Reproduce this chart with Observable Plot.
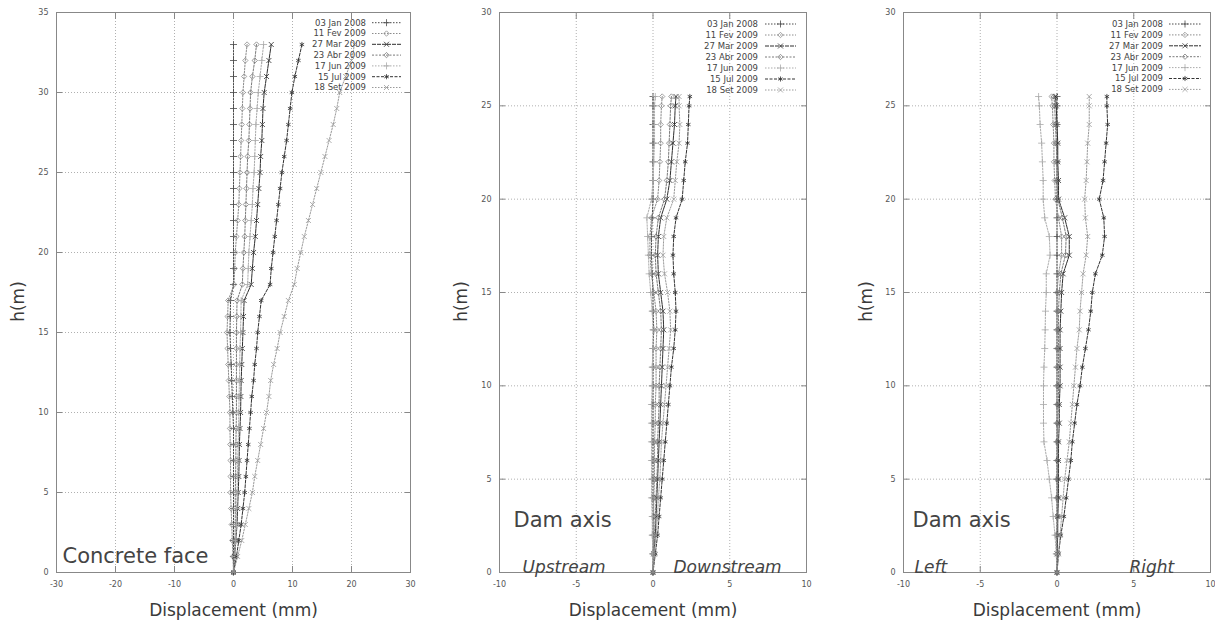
<!DOCTYPE html>
<html><head><meta charset="utf-8">
<script src="https://cdn.jsdelivr.net/npm/d3@7"></script>
<script src="https://cdn.jsdelivr.net/npm/@observablehq/plot@0.6"></script>
<style>
html,body{margin:0;padding:0;background:#fff;}
#wrap{position:relative;width:1215px;height:628px;overflow:hidden;font-family:"DejaVu Sans",sans-serif;}
.panel{position:absolute;top:0;}
</style></head><body><div id="wrap"></div>
<script>
// ---------- categories ----------
const dates = ["03 Jan 2008","11 Fev 2009","27 Mar 2009","23 Abr 2009","17 Jun 2009","15 Jul 2009","18 Set 2009"];
const hFace = [33,32,31,30,29,28,27,26,25,24,23,22,21,20,19,18,17,16,15,14,13,12,11,10,9,8,7,6,5,4,3,2,1,0];
const hAxis = [25.5,25,24,23,22,21,20,19,18,17,16,15,14,13,12,11,10,9,8,7,6,5,4,3,2,1,0];
const ticksFaceX = [-30,-20,-10,0,10,20,30];
const ticksFaceY = [0,5,10,15,20,25,30,35];
const ticksAxisX = [-10,-5,0,5,10];
const ticksAxisY = [0,5,10,15,20,25,30];

// ---------- Concrete face (mm) ----------
const faceJan08 = [0,0,0,0,0,0,0,0,0,0,0,0,0,0,0,0,-0.5,-0.55,-0.6,-0.5,-0.4,-0.3,-0.2,-0.1,0,0,0,0,0,0,0,0,0,0];
const faceFev09 = [2.3,2.0,1.8,1.6,1.5,1.4,1.3,1.2,1.1,1.0,0.9,0.7,0.5,0.3,0.2,0.1,-0.9,-1.0,-1.1,-1.0,-0.9,-0.8,-0.7,-0.6,-0.6,-0.55,-0.5,-0.5,-0.5,-0.4,-0.3,-0.2,-0.1,0];
const faceMar09 = [6.4,6.0,5.6,5.2,5.0,4.9,4.8,4.6,4.5,4.3,4.1,3.9,3.7,3.4,3.2,3.0,1.8,1.7,1.6,1.5,1.4,1.3,1.25,1.2,1.1,1.0,0.95,0.9,0.8,0.7,0.6,0.4,0.2,0];
const faceAbr09 = [3.9,3.6,3.2,2.9,2.8,2.7,2.6,2.4,2.3,2.2,2.1,2.0,1.9,1.75,1.6,1.5,0.6,0.55,0.5,0.5,0.5,0.5,0.5,0.5,0.45,0.4,0.4,0.35,0.3,0.3,0.3,0.25,0.1,0];
const faceJun09 = [5.1,4.8,4.5,4.2,4.0,3.8,3.7,3.6,3.5,3.3,3.2,3.0,2.8,2.6,2.5,2.4,1.3,1.25,1.2,1.1,1.05,1.0,0.95,0.9,0.85,0.8,0.7,0.65,0.6,0.55,0.5,0.4,0.2,0];
const faceJul09 = [11.6,11.0,10.4,9.9,9.6,9.3,9.0,8.6,8.2,7.9,7.6,7.3,7.0,6.7,6.4,6.2,4.7,4.4,4.1,3.9,3.6,3.4,3.1,2.9,2.7,2.5,2.3,2.1,1.9,1.6,1.3,0.9,0.5,0];
const faceSet09 = [20.5,20.0,19.0,18.0,17.5,16.9,16.2,15.5,14.8,14.1,13.4,12.7,12.0,11.4,10.8,10.3,9.3,8.6,7.9,7.4,6.8,6.3,6.0,5.6,5.1,4.6,4.1,3.6,3.2,2.6,2.0,1.4,0.7,0];

// ---------- Dam axis, upstream / downstream (mm) ----------
const udJan08 = [0,0,0,0,0,0,0,-0.05,-0.1,-0.1,-0.05,0,0,0.05,0,0,0,0,0,0,0,0,0,0,0,0,0];
const udFev09 = [0.6,0.55,0.5,0.5,0.45,0.4,0.3,-0.1,-0.2,-0.2,-0.1,0.05,0.2,0.25,0.2,0.2,0.2,0.15,0.15,0.1,0.1,0.1,0.05,0.05,0.05,0,0];
const udMar09 = [1.5,1.45,1.4,1.3,1.2,1.1,0.9,0.5,0.35,0.3,0.35,0.5,0.65,0.7,0.65,0.6,0.55,0.5,0.45,0.4,0.35,0.3,0.25,0.2,0.15,0.05,0];
const udAbr09 = [1.2,1.15,1.1,1.05,1.0,0.9,0.75,0.35,0.2,0.15,0.2,0.35,0.5,0.55,0.5,0.45,0.4,0.4,0.35,0.3,0.3,0.25,0.2,0.15,0.1,0.05,0];
const udJun09 = [0.15,0.1,0.1,0.1,0.05,0,-0.1,-0.4,-0.35,-0.3,-0.25,-0.15,-0.05,0,0,-0.05,-0.05,-0.1,-0.1,-0.1,-0.1,-0.1,-0.1,-0.05,-0.05,0,0];
const udJul09 = [2.4,2.35,2.3,2.25,2.1,2.0,1.9,1.5,1.35,1.3,1.35,1.45,1.5,1.45,1.35,1.2,1.1,1.0,0.9,0.8,0.7,0.6,0.5,0.4,0.3,0.15,0];
const udSet09 = [1.7,1.7,1.75,1.7,1.55,1.45,1.35,0.9,0.7,0.65,0.75,0.95,1.1,1.15,1.05,0.95,0.85,0.75,0.65,0.55,0.5,0.45,0.35,0.3,0.2,0.1,0];

// ---------- Dam axis, left / right (mm) ----------
const lrJan08 = [0,0,0,0,0,0,0,0,0,0,0,0,0,0,0,0,0,0,0,0,0,0,0,0,0,0,0];
const lrFev09 = [-0.35,-0.3,-0.25,-0.2,-0.2,-0.15,-0.1,0.1,0.3,0.3,0.1,0,0,0,0,0,0,0,0,0,0,0,0,0,0,0,0];
const lrMar09 = [-0.1,-0.05,0,0.05,0.05,0.1,0.1,0.5,0.8,0.8,0.4,0.3,0.25,0.2,0.2,0.2,0.2,0.15,0.15,0.1,0.1,0.1,0.1,0.05,0.05,0,0];
const lrAbr09 = [-0.2,-0.15,-0.1,-0.05,0,0,0.05,0.35,0.6,0.55,0.25,0.15,0.1,0.1,0.1,0.1,0.1,0.1,0.05,0.05,0.05,0.05,0.05,0.05,0,0,0];
const lrJun09 = [-1.2,-1.15,-1.1,-1.0,-0.95,-0.9,-0.9,-0.8,-0.5,-0.45,-0.7,-0.7,-0.75,-0.77,-0.8,-0.85,-0.88,-0.88,-0.88,-0.85,-0.65,-0.5,-0.35,-0.25,-0.13,-0.05,0];
const lrJul09 = [3.25,3.25,3.3,3.2,3.1,3.0,2.75,3.05,3.1,2.95,2.5,2.3,2.2,2.05,1.85,1.65,1.5,1.3,1.15,1.0,0.9,0.75,0.6,0.45,0.25,0.1,0];
const lrSet09 = [2.1,2.1,2.1,2.0,1.95,1.9,1.8,1.85,2.0,1.9,1.7,1.6,1.5,1.45,1.3,1.2,1.1,1.0,0.9,0.8,0.65,0.5,0.4,0.3,0.2,0.1,0];

// ---------- styles ----------
const seriesColors = ["#4a4a4a","#8c8c8c","#2e2e2e","#7a7a7a","#ababab","#333333","#9a9a9a"];
const seriesDash   = ["1.5,1.5","1.5,1.5","4,1","2,1.5","1.5,1.5","3,1.5","1.5,1.5"];
const seriesSymbol = ["plus","diamond2","times","diamond2","plus","asterisk","times"];
const d3Symbols = {plus: d3.symbolPlus, diamond2: d3.symbolDiamond2, times: d3.symbolTimes, asterisk: d3.symbolAsterisk};
const R = 2.4;

function makePanel(cfg) {
  const marks = [
    Plot.gridX(cfg.xTicks, {stroke: "#b0b0b0", strokeOpacity: 1, strokeDasharray: "1,2"}),
    Plot.gridY(cfg.yTicks, {stroke: "#b0b0b0", strokeOpacity: 1, strokeDasharray: "1,2"})
  ];
  cfg.series.forEach((vals, si) => {
    const data = vals.map((v, i) => ({h: cfg.heights[i], d: v}));
    marks.push(Plot.line(data, {x: "d", y: "h", stroke: seriesColors[si], strokeWidth: 1, strokeDasharray: seriesDash[si]}));
    marks.push(Plot.dot(data, {x: "d", y: "h", symbol: seriesSymbol[si], r: R, fill: "none", stroke: seriesColors[si], strokeWidth: 0.8}));
  });
  const fmt = d => String(d);
  const none = () => "";
  marks.push(
    Plot.frame({stroke: "#888"}),
    Plot.axisX(cfg.xTicks, {anchor: "bottom", tickSize: -6, stroke: "#888", tickFormat: none, label: null}),
    Plot.axisX(cfg.xTicks, {anchor: "top", tickSize: -6, stroke: "#888", tickFormat: none, label: null}),
    Plot.axisY(cfg.yTicks, {anchor: "left", tickSize: -6, stroke: "#888", tickFormat: none, label: null}),
    Plot.axisY(cfg.yTicks, {anchor: "right", tickSize: -6, stroke: "#888", tickFormat: none, label: null}),
    Plot.axisX(cfg.xTicks, {anchor: "bottom", tickSize: 0, tickPadding: 9, tickFormat: fmt, label: null, fill: "#555"}),
    Plot.axisY(cfg.yTicks, {anchor: "left", tickSize: 0, tickPadding: 8, tickFormat: fmt, label: null, fill: "#555"}),
    Plot.text(["Displacement (mm)"], {frameAnchor: "bottom", lineAnchor: "middle", textAnchor: "middle", dy: 38, fontSize: 17, fill: "#3a3a3a"}),
    Plot.text(["h(m)"], {frameAnchor: "left", lineAnchor: "middle", textAnchor: "middle", dx: cfg.hDx, dy: 9, rotate: -90, fontSize: 17, fill: "#3a3a3a"})
  );
  cfg.notes.forEach(n => marks.push(Plot.text([n.text], {frameAnchor: "bottom-left", lineAnchor: "middle", textAnchor: "start", dx: n.dx, dy: n.dy, fontSize: n.size, fontStyle: n.italic ? "italic" : "normal", fill: "#444"})));

  const svg = Plot.plot({
    width: cfg.width, height: 628,
    marginLeft: cfg.ml, marginRight: cfg.mr, marginTop: 12, marginBottom: 56,
    x: {domain: cfg.xDomain}, y: {domain: cfg.yDomain},
    style: {fontFamily: "DejaVu Sans", fontSize: "8px", color: "#555", background: "transparent", overflow: "visible"},
    marks
  });

  // legend
  const g = d3.select(svg).append("g").attr("font-family", "DejaVu Sans").attr("font-size", 8.5);
  dates.forEach((name, i) => {
    const y = cfg.leg.y0 + i * cfg.leg.dy;
    g.append("text").attr("x", cfg.leg.tx).attr("y", y).attr("dy", "0.35em").attr("text-anchor", "end").attr("fill", "#444").text(name);
    g.append("line").attr("x1", cfg.leg.l1).attr("x2", cfg.leg.l2).attr("y1", y).attr("y2", y)
      .attr("stroke", seriesColors[i]).attr("stroke-width", 1).attr("stroke-dasharray", seriesDash[i]);
    g.append("path").attr("transform", `translate(${(cfg.leg.l1 + cfg.leg.l2) / 2},${y})`)
      .attr("d", d3.symbol(d3Symbols[seriesSymbol[i]], R * R * Math.PI)())
      .attr("fill", "none").attr("stroke", seriesColors[i]).attr("stroke-width", 0.8);
  });

  svg.classList.add("panel");
  svg.style.left = cfg.left + "px";
  document.getElementById("wrap").appendChild(svg);
}

makePanel({
  left: 0, width: 420, ml: 56, mr: 10,
  xDomain: [-30, 30], yDomain: [0, 35], xTicks: ticksFaceX, yTicks: ticksFaceY,
  heights: hFace,
  series: [faceJan08, faceFev09, faceMar09, faceAbr09, faceJun09, faceJul09, faceSet09],
  hDx: -38,
  notes: [{text: "Concrete face", dx: 6, dy: -16, size: 21}],
  leg: {tx: 366, l1: 372, l2: 401, y0: 22.7, dy: 10.8}
});
makePanel({
  left: 420, width: 400, ml: 79, mr: 14,
  xDomain: [-10, 10], yDomain: [0, 30], xTicks: ticksAxisX, yTicks: ticksAxisY,
  heights: hAxis,
  series: [udJan08, udFev09, udMar09, udAbr09, udJun09, udJul09, udSet09],
  hDx: -38,
  notes: [
    {text: "Dam axis", dx: 14, dy: -52, size: 21},
    {text: "Upstream", dx: 23, dy: -5, size: 17, italic: true},
    {text: "Downstream", dx: 174, dy: -5, size: 17, italic: true}
  ],
  leg: {tx: 338, l1: 345, l2: 376, y0: 24, dy: 11}
});
makePanel({
  left: 820, width: 395, ml: 83, mr: 5,
  xDomain: [-10, 10], yDomain: [0, 30], xTicks: ticksAxisX, yTicks: ticksAxisY,
  heights: hAxis,
  series: [lrJan08, lrFev09, lrMar09, lrAbr09, lrJun09, lrJul09, lrSet09],
  hDx: -37,
  notes: [
    {text: "Dam axis", dx: 9, dy: -52, size: 21},
    {text: "Left", dx: 11, dy: -5, size: 17, italic: true},
    {text: "Right", dx: 226, dy: -5, size: 17, italic: true}
  ],
  leg: {tx: 343, l1: 349, l2: 381, y0: 24, dy: 10.9}
});
</script>
</body></html>
